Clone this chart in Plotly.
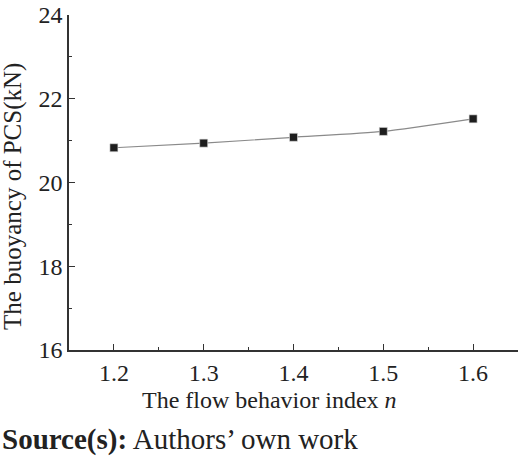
import plotly.graph_objects as go

# flow behavior index n vs buoyancy of PCS (kN)
n_index = [1.2, 1.3, 1.4, 1.5, 1.6]
buoyancy = [20.83, 20.94, 21.08, 21.22, 21.52]

x_ticks = [1.2, 1.3, 1.4, 1.5, 1.6]
y_ticks = [16, 18, 20, 22, 24]

font_serif = "Liberation Serif, Times New Roman, serif"

# plot area in pixels: left 69, right 518, top 13, bottom 350
PW, PH = 449, 337

fig = go.Figure()

fig.add_trace(go.Scatter(
    x=n_index, y=buoyancy,
    mode="lines+markers",
    line=dict(color="#8a8a8a", width=1.2, shape="spline", smoothing=0.6),
    marker=dict(symbol="square", size=8, color="#1e1e1e",
                line=dict(color="#dddddd", width=0.6)),
    hoverinfo="x+y",
    showlegend=False,
))

axis_common = dict(
    showgrid=False, zeroline=False, showline=True,
    linecolor="#333333", linewidth=1.5,
    ticks="inside", ticklen=6, tickwidth=1.2, tickcolor="#333333",
    tickfont=dict(family=font_serif, size=24, color="#222222"),
    mirror=False,
)

fig.update_xaxes(
    range=[1.15, 1.65], tickvals=x_ticks,
    ticktext=[f"{v:.1f}" for v in x_ticks],
    minor=dict(ticks="inside", ticklen=3, tickwidth=1, tickcolor="#333333",
               dtick=0.05, tick0=1.15),
    **axis_common,
)
fig.update_yaxes(
    range=[16, 24], tickvals=y_ticks,
    minor=dict(ticks="inside", ticklen=3, tickwidth=1, tickcolor="#333333",
               dtick=1, tick0=16),
    **axis_common,
)

fig.update_layout(
    width=520, height=458,
    margin=dict(l=69, r=2, t=13, b=108),
    plot_bgcolor="white", paper_bgcolor="white",
    font=dict(family=font_serif, color="#222222"),
    annotations=[
        dict(text="The flow behavior index <i>n</i>", xref="paper", yref="paper",
             x=(269 - 69) / PW, y=(350 - 400) / PH, xanchor="center", yanchor="middle",
             showarrow=False, font=dict(family=font_serif, size=24)),
        dict(text="The buoyancy of PCS(kN)", xref="paper", yref="paper",
             x=-56 / PW, y=(350 - 196) / PH, xanchor="center", yanchor="middle",
             textangle=-90, showarrow=False, font=dict(family=font_serif, size=25)),
        dict(text="<b>Source(s):</b> Authors’ own work", xref="paper", yref="paper",
             x=-69 / PW, y=(350 - 440) / PH, xanchor="left", yanchor="middle",
             showarrow=False, font=dict(family=font_serif, size=29)),
    ],
)

fig.write_html(
    "out.html",
    config={"displayModeBar": False},
    post_script="document.body.style.margin='0';document.body.style.overflow='hidden';",
)
